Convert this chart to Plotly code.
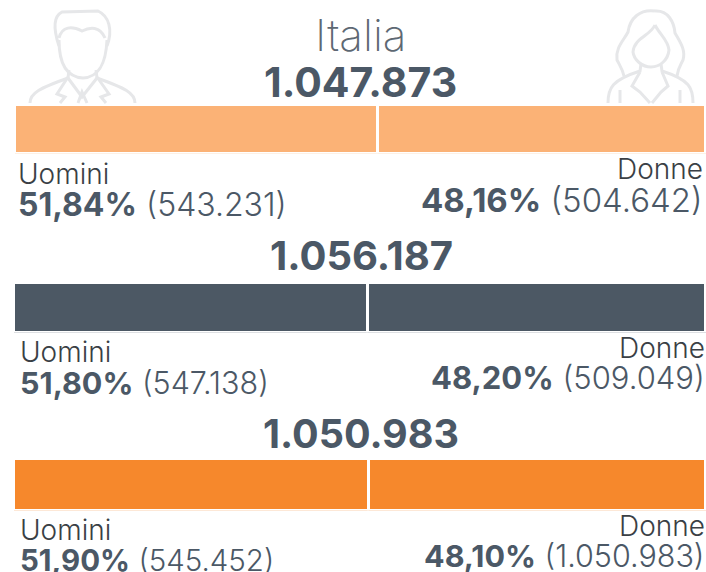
import plotly.graph_objects as go

W, H = 706, 572
totals = ["1.047.873", "1.056.187", "1.050.983"]
men_pct = ["51,84%", "51,80%", "51,90%"]
men_abs = ["(543.231)", "(547.138)", "(545.452)"]
women_pct = ["48,16%", "48,20%", "48,10%"]
women_abs = ["(504.642)", "(509.049)", "(1.050.983)"]
men_share_drawn = [52.5, 51.2, 51.25]
women_share_drawn = [47.5, 48.8, 48.75]
bar_colors = ["#FBB276", "#4C5864", "#F6882C"]
ICON = "#E6E7E9"
DARK = "#4B5866"
FONT = "Inter"
EDGE = 1.25

bar_boxes = [(16, 705, 106, 152), (15, 706, 284, 331), (15, 706, 460, 509)]
label_specs = [
    dict(u=(18, 174), d=(703, 169), m=(18, 205), w=(703, 200), t=(360, 82), ls=28, ms=32, ws=33, ts=41),
    dict(u=(20, 352), d=(705, 348), m=(20, 382), w=(705, 377), t=(361, 256), ls=28, ms=30.5, ws=31, ts=40),
    dict(u=(20, 530), d=(705, 526), m=(20, 560), w=(705, 555), t=(361, 434), ls=28, ms=29.5, ws=30.5, ts=39.5),
]

fig = go.Figure()
layout = {}
for i, (x0, x1, y0, y1) in enumerate(bar_boxes):
    s = "" if i == 0 else str(i + 1)
    for name, vals in (("Uomini", men_share_drawn), ("Donne", women_share_drawn)):
        fig.add_trace(go.Bar(
            x=[vals[i]], y=[0], orientation="h", name=name, showlegend=False,
            marker=dict(color=bar_colors[i], line=dict(color="white", width=2 * EDGE)),
            xaxis="x" + s, yaxis="y" + s, hoverinfo="x+name",
        ))
    layout["xaxis" + s] = dict(domain=[(x0 - EDGE) / W, min(x1 + EDGE, W) / W], range=[0, 100], visible=False,
                               anchor="y" + s, fixedrange=True)
    layout["yaxis" + s] = dict(domain=[1 - (y1 + EDGE) / H, 1 - (y0 - EDGE) / H], range=[-0.5, 0.5], visible=False,
                               anchor="x" + s, fixedrange=True)


def note(text, xy, size, color=DARK, anchor="left", weight=300):
    fig.add_annotation(text=text, x=xy[0] / W, y=1 - xy[1] / H, xref="paper", yref="paper",
                       xanchor=anchor, yanchor="middle", showarrow=False,
                       font=dict(family=FONT, size=size, color=color, weight=weight),
                       borderpad=0, borderwidth=0)


note("Italia", (360, 35), 44, "#5D6873", "center", 200)
for i, sp in enumerate(label_specs):
    note(f"<b>{totals[i]}</b>", sp["t"], sp["ts"], DARK, "center", 700)
    note("Uomini", sp["u"], sp["ls"], "#3A3F45")
    note("Donne", sp["d"], sp["ls"], "#3A3F45", "right")
    note(f"<b>{men_pct[i]}</b> {men_abs[i]}", sp["m"], sp["ms"])
    note(f"<b>{women_pct[i]}</b> {women_abs[i]}", sp["w"], sp["ws"], DARK, "right")


def path(cmds):
    out = []
    for c in cmds:
        if isinstance(c, str):
            out.append(c)
        else:
            out.append(f"{c[0] / W:.5f},{1 - c[1] / H:.5f}")
    return " ".join(out)


icon_paths = [
    # man: hair, hairline, face, shoulders, lapels
    ["M", (59, 46), "C", (53, 28), (54, 16), (62, 12), "L", (98, 11), "C", (109, 16), (113, 30), (107, 46)],
    ["M", (59, 38), "C", (62, 26), (72, 26), (82, 31), "C", (90, 27), (100, 26), (105, 38), ],
    ["M", (59, 40), "C", (59, 62), (66, 77), (83, 78), "C", (100, 77), (106, 62), (107, 40)],
    ["M", (30, 103), "C", (30, 93), (40, 88), (68, 78), "L", (69, 70)],
    ["M", (135, 103), "C", (135, 93), (125, 88), (97, 78), "L", (96, 70)],
    ["M", (68, 77), "L", (57, 94), "L", (65, 97), "L", (60, 103)],
    ["M", (97, 77), "L", (109, 94), "L", (101, 97), "L", (106, 103)],
    ["M", (68, 78), "L", (82, 97), "L", (97, 78)],
    ["M", (78, 103), "L", (82, 92), "L", (87, 103)],
    # woman: hair, face, shoulders, jacket
    ["M", (655, 11), "C", (640, 9), (630, 18), (628, 32), "C", (624, 40), (615, 48), (617, 60),
     "C", (620, 66), (622, 68), (624, 76)],
    ["M", (655, 11), "C", (668, 10), (674, 22), (675, 33), "C", (680, 42), (686, 50), (683, 60),
     "C", (680, 66), (678, 68), (677, 76)],
    ["M", (655, 25), "C", (650, 36), (634, 38), (633, 52), "C", (634, 60), (642, 67), (651, 67),
     "C", (660, 67), (668, 60), (669, 50), "C", (668, 40), (660, 35), (655, 25)],
    ["M", (608, 103), "C", (608, 88), (612, 80), (640, 71), "L", (641, 64)],
    ["M", (693, 103), "C", (693, 88), (690, 80), (662, 71), "L", (661, 64)],
    ["M", (640, 72), "L", (632, 86), "L", (640, 92), "L", (650, 103)],
    ["M", (662, 72), "L", (668, 86), "L", (661, 92), "L", (652, 103)],
    ["M", (620, 90), "L", (620, 103)],
    ["M", (680, 90), "L", (680, 103)],
]
shapes = [dict(type="path", path=path(p), xref="paper", yref="paper",
               line=dict(color=ICON, width=3), layer="below") for p in icon_paths]

fig.update_layout(
    width=W, height=H, margin=dict(l=0, r=0, t=0, b=0), barmode="stack", bargap=0,
    paper_bgcolor="white", plot_bgcolor="white", shapes=shapes, showlegend=False,
    **layout,
)
fig.write_html("out.html", config=dict(displayModeBar=False),
               post_script="document.body.style.margin='0';document.body.style.overflow='hidden';")
